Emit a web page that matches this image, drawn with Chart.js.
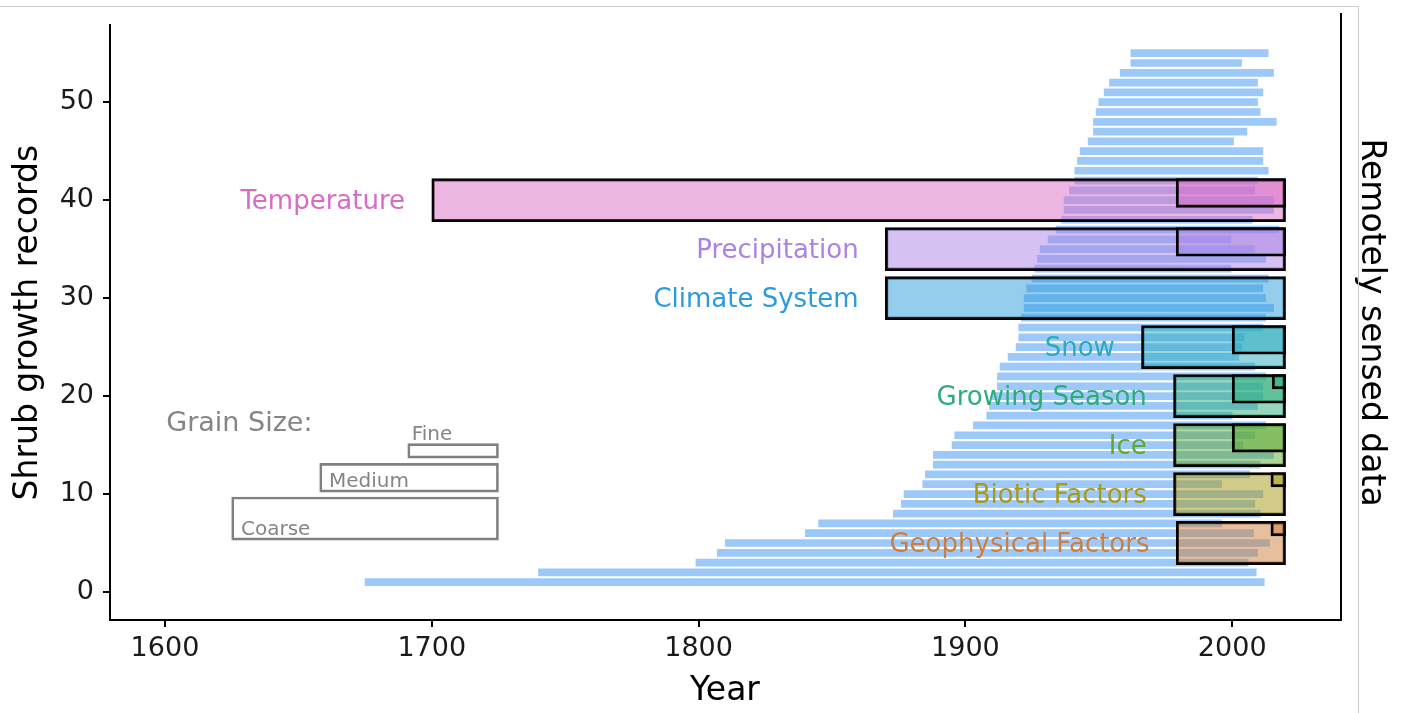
<!DOCTYPE html>
<html>
<head>
<meta charset="utf-8">
<script src="https://cdn.jsdelivr.net/npm/chart.js@4/dist/chart.umd.min.js"></script>
<style>
html,body{margin:0;padding:0;background:#fff;}
#wrap{position:relative;width:1406px;height:713px;overflow:hidden;}
#frame{position:absolute;left:0;top:6px;width:1359px;height:707px;border-top:1px solid #d0d0d0;border-right:1px solid #d0d0d0;box-sizing:border-box;pointer-events:none;}
canvas{position:absolute;left:0;top:0;}
</style>
</head>
<body>
<div id="wrap"><canvas id="c" width="1406" height="713"></canvas><div id="frame"></div></div>
<script>
// ---------- data ----------
const recordIds = [1,2,3,4,5,6,7,8,9,10,11,12,13,14,15,16,17,18,19,20,21,22,23,24,25,26,27,28,29,30,31,32,33,34,35,36,37,38,39,40,41,42,43,44,45,46,47,48,49,50,51,52,53,54,55];
const recordStart = [1675,1740,1799,1807,1810,1840,1845,1873,1876,1877,1884,1885,1888,1888,1895,1896,1903,1908,1909,1910,1912,1912,1913,1916,1919,1920,1920,1921,1922,1922,1923,1925,1926,1927,1928,1931,1934,1936,1937,1937,1939,1941,1941,1942,1943,1946,1948,1948,1949,1950,1952,1954,1958,1962,1962];
const recordEnd   = [2012,2009,2006,2009.5,2014,2008,1996,2010.5,2008.5,2011.5,1996,2006.5,2010.5,2015.5,2004,2008.5,2012.5,2000,2009.5,2011.5,2011.5,2012.5,2008.5,2002.5,2003.5,2004.5,2011.5,2012.5,2015.5,2012.5,2011.5,2013.5,1999.5,2012.5,2008.5,1999.5,2017.5,2007.5,2015.5,2015.5,2008.5,2009.5,2013.5,2011.5,2011.5,2000.5,2005.5,2016.5,2010.5,2009.5,2011.5,2009.5,2015.5,2003.5,2013.5];

const categories     = ['Temperature','Precipitation','Climate System','Snow','Growing Season','Ice','Biotic Factors','Geophysical Factors'];
const categoryCenter = [40,35,30,25,20,15,10,5];
const coarseStart    = [1700,1870,1870,1966,1978,1978,1978,1979];
const mediumStart    = [1979,1979,null,2000,2000,2000,null,null];
const fineStart      = [null,null,null,null,2015,null,2014.5,2014.5];
const remoteEnd      = 2020;

const xTickValues = [1600,1700,1800,1900,2000];
const yTickValues = [0,10,20,30,40,50];

const grainNames        = ['Coarse','Medium','Fine'];
const grainHeight       = [4.4,2.93,1.47];
const grainLegendStart  = [1625,1658,1691];
const grainLegendEnd    = [1725,1725,1725];
const grainLegendBottom = [5.3,10.2,13.67];
const grainLabelX       = [1628.5,1661.5,1692.5];
const grainLabelY       = [6.6,11.5,16.3];
const grainTitle  = 'Grain Size:';
const grainTitleX = 1600.5;
const grainTitleY = 17.4;

// ---------- styles / layout ----------
const catColors = ['#D96BC5','#AB83E5','#2B9BDC','#29ABBE','#2BAD79','#5DAA30','#A89A14','#CC7F3E'];
const X_MIN = 1579.4, X_MAX = 2040.4, Y_MIN = -2.86, Y_MAX = 57.86;
const PLOT_TOP = 25, PLOT_BOTTOM = 620, PLOT_LEFT = 110, PLOT_RIGHT_GAP = 66;
const CANVAS_W = 1406, CANVAS_H = 713;
const pxPerUnit = (PLOT_BOTTOM - PLOT_TOP) / (Y_MAX - Y_MIN);
const LABEL_GAP_YEARS = 10;
const LABEL_NUDGE_PX = 2;
const FONT = '"DejaVu Sans"';

Chart.defaults.font.family = FONT;
Chart.defaults.color = '#1a1a1a';

function rgba(hex, a) {
  const n = parseInt(hex.slice(1), 16);
  return `rgba(${n >> 16},${(n >> 8) & 255},${n & 255},${a})`;
}

function boxDataset(g, starts) {
  const idx = categories.map((_, i) => i).filter(i => starts[i] != null);
  return {
    label: grainNames[g],
    data: idx.map(i => ({ x: [starts[i], remoteEnd], y: categoryCenter[i] + grainHeight[0] / 2 - grainHeight[g] / 2 })),
    backgroundColor: idx.map(i => rgba(catColors[i], 0.5)),
    borderColor: '#000',
    borderWidth: 2.5,
    borderSkipped: false,
    barThickness: grainHeight[g] * pxPerUnit,
    grouped: false,
    order: 3 - g
  };
}

function legendDataset(g) {
  return {
    label: grainNames[g] + ' legend',
    data: [{ x: [grainLegendStart[g], grainLegendEnd[g]], y: grainLegendBottom[g] + grainHeight[g] / 2 }],
    backgroundColor: 'rgba(0,0,0,0)',
    borderColor: '#808080',
    borderWidth: 2,
    borderSkipped: false,
    barThickness: grainHeight[g] * pxPerUnit,
    grouped: false,
    order: 0
  };
}

const recordsDataset = {
  label: 'Shrub growth records',
  data: recordIds.map((k, i) => ({ x: [recordStart[i], recordEnd[i]], y: k })),
  backgroundColor: '#9DC8FA',
  borderWidth: 0,
  barThickness: 0.72 * pxPerUnit,
  grouped: false,
  order: 10
};

const textPlugin = {
  id: 'textAnnotations',
  afterDatasetsDraw(chart) {
    const { ctx, scales: { x, y } } = chart;
    ctx.save();
    ctx.textBaseline = 'middle';
    ctx.textAlign = 'right';
    ctx.font = `26px ${FONT}`;
    categories.forEach((name, i) => {
      ctx.fillStyle = catColors[i];
      ctx.fillText(name, x.getPixelForValue(coarseStart[i] - LABEL_GAP_YEARS), y.getPixelForValue(categoryCenter[i]) + LABEL_NUDGE_PX);
    });
    ctx.textAlign = 'left';
    ctx.fillStyle = '#858585';
    ctx.font = `27px ${FONT}`;
    ctx.fillText(grainTitle, x.getPixelForValue(grainTitleX), y.getPixelForValue(grainTitleY) + LABEL_NUDGE_PX);
    ctx.font = `20px ${FONT}`;
    grainNames.forEach((name, g) => {
      ctx.fillText(name, x.getPixelForValue(grainLabelX[g]), y.getPixelForValue(grainLabelY[g]) + LABEL_NUDGE_PX);
    });
    ctx.restore();
  },
  afterDraw(chart) {
    const { ctx, chartArea } = chart;
    ctx.save();
    ctx.strokeStyle = '#000';
    ctx.lineWidth = 2;
    ctx.beginPath();
    ctx.moveTo(chartArea.right + 1, 13);
    ctx.lineTo(chartArea.right + 1, chartArea.bottom + 1);
    ctx.stroke();
    ctx.restore();
  }
};

const axisGrid = { display: true, drawOnChartArea: false, drawTicks: true, tickLength: 7, lineWidth: 2, color: '#000', offset: false };
const axisBorder = { display: true, color: '#000', width: 2 };

new Chart(document.getElementById('c'), {
  type: 'bar',
  data: {
    datasets: [
      legendDataset(0), legendDataset(1), legendDataset(2),
      boxDataset(2, fineStart), boxDataset(1, mediumStart), boxDataset(0, coarseStart),
      recordsDataset
    ]
  },
  options: {
    indexAxis: 'y',
    responsive: false,
    animation: false,
    devicePixelRatio: 1,
    layout: { padding: { top: PLOT_TOP, left: 0, right: 0, bottom: 0 } },
    plugins: { legend: { display: false }, tooltip: { enabled: false } },
    scales: {
      x: {
        type: 'linear', position: 'bottom', min: X_MIN, max: X_MAX, offset: false, beginAtZero: false,
        grid: axisGrid, border: axisBorder,
        afterBuildTicks: s => { s.ticks = xTickValues.map(v => ({ value: v })); },
        afterFit: s => { s.height = CANVAS_H - PLOT_BOTTOM; },
        ticks: { autoSkip: false, maxRotation: 0, padding: 6, color: '#1a1a1a', font: { size: 27 }, callback: v => String(v) },
        title: { display: true, text: 'Year', color: '#000', font: { size: 33 }, padding: { top: 0, bottom: 2 } }
      },
      y: {
        type: 'linear', position: 'left', min: Y_MIN, max: Y_MAX, offset: false, beginAtZero: false,
        grid: axisGrid, border: axisBorder,
        afterBuildTicks: s => { s.ticks = yTickValues.map(v => ({ value: v })); },
        afterFit: s => { s.width = PLOT_LEFT; },
        ticks: { autoSkip: false, padding: 9, color: '#1a1a1a', font: { size: 27 }, callback: v => String(v) },
        title: { display: true, text: 'Shrub growth records', color: '#000', font: { size: 33 }, padding: { top: 9, bottom: 0 } }
      },
      y2: {
        type: 'linear', position: 'right', min: Y_MIN, max: Y_MAX,
        grid: { display: false }, border: { display: false },
        ticks: { display: false },
        afterFit: s => { s.width = PLOT_RIGHT_GAP; },
        title: { display: true, text: 'Remotely sensed data', color: '#000', font: { size: 33 }, padding: { top: 16, bottom: 0 } }
      }
    }
  },
  plugins: [textPlugin]
});
</script>
</body>
</html>
